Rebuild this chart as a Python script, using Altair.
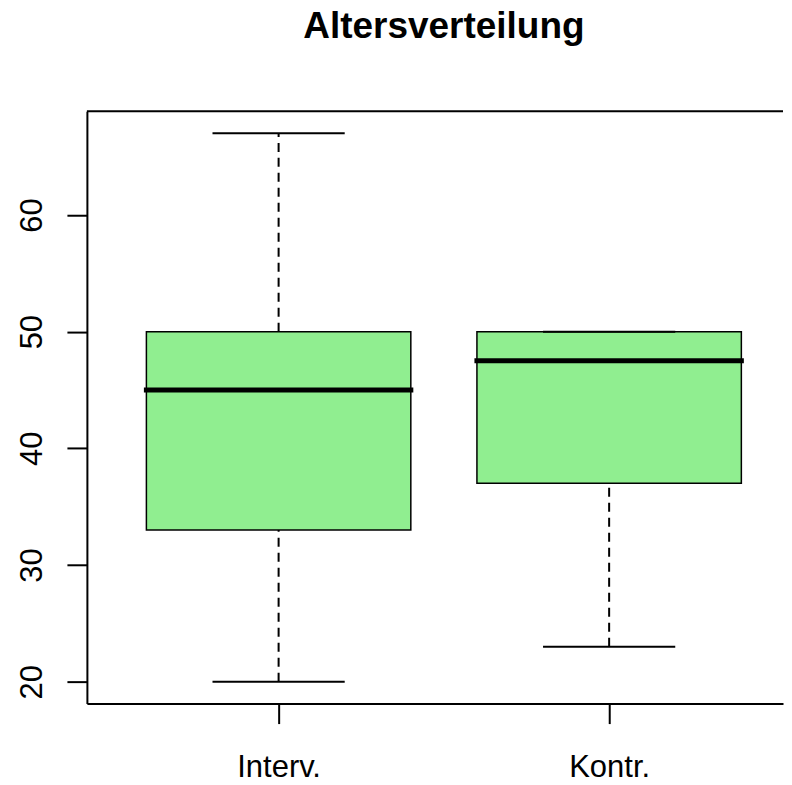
import json
import altair as alt
import pandas as pd

# ---- data ----
categories = ["Interv.", "Kontr."]
positions = [1, 2]
mins = [20, 23]
q1s = [33, 37]
medians = [45, 47.5]
q3s = [50, 50]
maxs = [67, 50]
y_ticks = [20, 30, 40, 50, 60]

df = pd.DataFrame({
    "cat": categories, "pos": positions, "lo": mins, "q1": q1s,
    "med": medians, "q3": q3s, "hi": maxs,
})

W, H = 697, 593
FONT = "Liberation Sans"
X_DOMAIN = [0.42, 2.526]

y_lo = min(mins) - 0.04 * (max(maxs) - min(mins))
y_hi = max(maxs) + 0.04 * (max(maxs) - min(mins))
x_scale = alt.Scale(domain=X_DOMAIN, nice=False, zero=False)
y_scale = alt.Scale(domain=[y_lo, y_hi], nice=False, zero=False)

label_expr = f"{json.dumps(categories)}[round(datum.value) - 1]"
x_axis = alt.Axis(values=positions, labelExpr=label_expr, tickSize=20, tickWidth=2,
                  tickColor="black", domainColor="black", domainWidth=2,
                  labelFont=FONT, labelFontSize=31, labelColor="black",
                  labelPadding=29, labelAngle=0, title=None, grid=False,
                  labelBaseline="top")
y_axis = alt.Axis(values=y_ticks, tickSize=20, tickWidth=2, tickColor="black",
                  domainColor="black", domainWidth=2, labelFont=FONT,
                  labelFontSize=31, labelColor="black", labelAngle=270,
                  labelAlign="center", labelBaseline="alphabetic", labelPadding=25,
                  title=None, grid=False, minExtent=79, maxExtent=79)

base = alt.Chart(df).transform_calculate(
    bl="datum.pos - 0.4", br="datum.pos + 0.4",
    cl="datum.pos - 0.2", cr="datum.pos + 0.2",
)

box = base.mark_rect(fill="#90EE90", stroke="black", strokeWidth=1.5).encode(
    x=alt.X("bl:Q", scale=x_scale, axis=x_axis), x2="br:Q",
    y=alt.Y("q1:Q", scale=y_scale, axis=y_axis), y2="q3:Q",
)
lower = base.mark_rule(color="black", strokeWidth=2, strokeDash=[9, 6]).encode(
    x=alt.X("pos:Q", scale=x_scale, axis=x_axis),
    y=alt.Y("lo:Q", scale=y_scale, axis=y_axis), y2="q1:Q",
)
upper = base.mark_rule(color="black", strokeWidth=2, strokeDash=[9, 6]).encode(
    x=alt.X("pos:Q", scale=x_scale, axis=x_axis),
    y=alt.Y("q3:Q", scale=y_scale, axis=y_axis), y2="hi:Q",
)
cap_lo = base.mark_rule(color="black", strokeWidth=2).encode(
    x=alt.X("cl:Q", scale=x_scale, axis=x_axis), x2="cr:Q",
    y=alt.Y("lo:Q", scale=y_scale, axis=y_axis),
)
cap_hi = base.mark_rule(color="black", strokeWidth=2).encode(
    x=alt.X("cl:Q", scale=x_scale, axis=x_axis), x2="cr:Q",
    y=alt.Y("hi:Q", scale=y_scale, axis=y_axis),
)
median = base.mark_rule(color="black", strokeWidth=5, strokeCap="square").encode(
    x=alt.X("bl:Q", scale=x_scale, axis=x_axis), x2="br:Q",
    y=alt.Y("med:Q", scale=y_scale, axis=y_axis),
)
frame_top = alt.Chart(df.head(1)).mark_rule(color="black", strokeWidth=2).encode(
    x=alt.X(datum=X_DOMAIN[0], type="quantitative", scale=x_scale, axis=x_axis),
    x2=alt.X2(datum=X_DOMAIN[1]),
    y=alt.Y(datum=y_hi, type="quantitative", scale=y_scale, axis=y_axis),
)

chart = alt.layer(box, lower, upper, cap_lo, cap_hi, median, frame_top).properties(
    width=W, height=H,
    background="white",
    padding={"left": 0, "right": 0, "top": 0, "bottom": 0},
    title=alt.Title("Altersverteilung", font=FONT, fontSize=37, fontWeight="bold",
                    color="black", anchor="middle", dx=9, offset=35,
                    baseline="alphabetic"),
).configure_view(stroke="transparent", strokeWidth=0)

chart.save("out.html", embed_options={"renderer": "svg", "actions": False})
